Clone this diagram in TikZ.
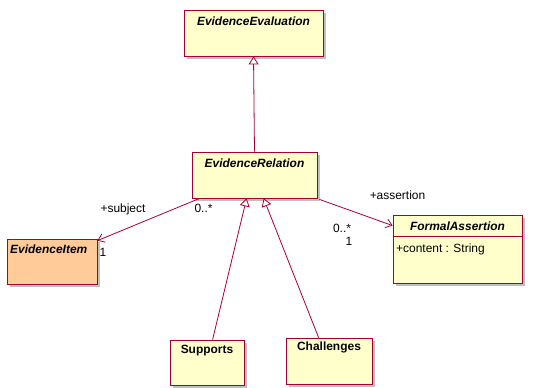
\documentclass[tikz,border=0pt]{standalone}
\usepackage{fontspec}
\setmainfont{Liberation Sans}
\usetikzlibrary{arrows.meta,shadows,calc}
\definecolor{umlred}{RGB}{165,0,51}
\definecolor{umlyellow}{RGB}{255,255,204}
\definecolor{umlorange}{RGB}{255,204,153}
\begin{document}
\begin{tikzpicture}[x=1bp,y=-1bp,
  cls/.style={draw=umlred, fill=umlyellow, line width=0.8pt, inner sep=0pt,
    drop shadow={shadow xshift=3bp, shadow yshift=-3bp, fill=black!25, opacity=1}},
  ttl/.style={font=\fontsize{12}{14}\selectfont\bfseries\itshape, inner sep=0pt},
  ttlb/.style={font=\fontsize{12}{14}\selectfont\bfseries, inner sep=0pt},
  lbl/.style={font=\fontsize{12}{14}\selectfont, inner sep=0pt},
  gen/.style={draw=umlred, line width=0.8pt, -{Triangle[open,length=8bp,width=10bp,fill=white]}},
  assoc/.style={draw=umlred, line width=0.8pt, -{Straight Barb[length=6bp,width=9bp]}}]
\useasboundingbox (0,0) rectangle (553,387);

% classes
\node[cls, minimum width=139bp, minimum height=46bp] (EE) at (253.5,33) {};
\node[ttl] (EEt) at (253.5,21) {EvidenceEvaluation};

\node[cls, minimum width=125bp, minimum height=46bp] (ER) at (254.5,175) {};
\node[ttl] (ERt) at (254.5,163) {EvidenceRelation};

\node[cls, fill=umlorange, minimum width=90bp, minimum height=45bp] (EI) at (52,261.5) {};
\node[ttl, anchor=west] (EIt) at (10,249) {EvidenceItem};

\node[cls, minimum width=129bp, minimum height=68bp] (FA) at (457.5,249) {};
\node[ttl] (FAt) at (457.5,226) {FormalAssertion};
\draw[umlred, line width=0.8pt] ($(FA.north west)+(0,22)$) -- ($(FA.north east)+(0,22)$);
\node[lbl, anchor=west] (FAa) at (396,249) {+content : String};

\node[cls, minimum width=74bp, minimum height=45bp] (S) at (207,362.5) {};
\node[ttlb] (St) at (207,351) {Supports};

\node[cls, minimum width=86bp, minimum height=46bp] (C) at (329,361) {};
\node[ttlb] (Ct) at (329,347) {Challenges};

% generalizations
\draw[gen] (ER.north) -- (EE.south);
\draw[gen] ($(S.north west)+(43,0)$) -- ($(ER.south west)+(55,0)$);
\draw[gen] ($(C.north west)+(33,0)$) -- ($(ER.south west)+(72,0)$);

% associations
\draw[assoc] ($(ER.south west)+(8,0)$) -- ($(EI.north east)+(0,2)$);
\draw[assoc] ($(ER.south east)+(2,1)$) -- ($(FA.north west)+(0,11)$);

% labels
\node[lbl] (l1) at (123,209) {+subject};
\node[lbl] (l2) at (203.5,208) {0..*};
\node[lbl] (l3) at (103,252) {1};
\node[lbl] (l4) at (397.5,195) {+assertion};
\node[lbl] (l5) at (342,228) {0..*};
\node[lbl] (l6) at (349,241) {1};
\end{tikzpicture}
\end{document}
